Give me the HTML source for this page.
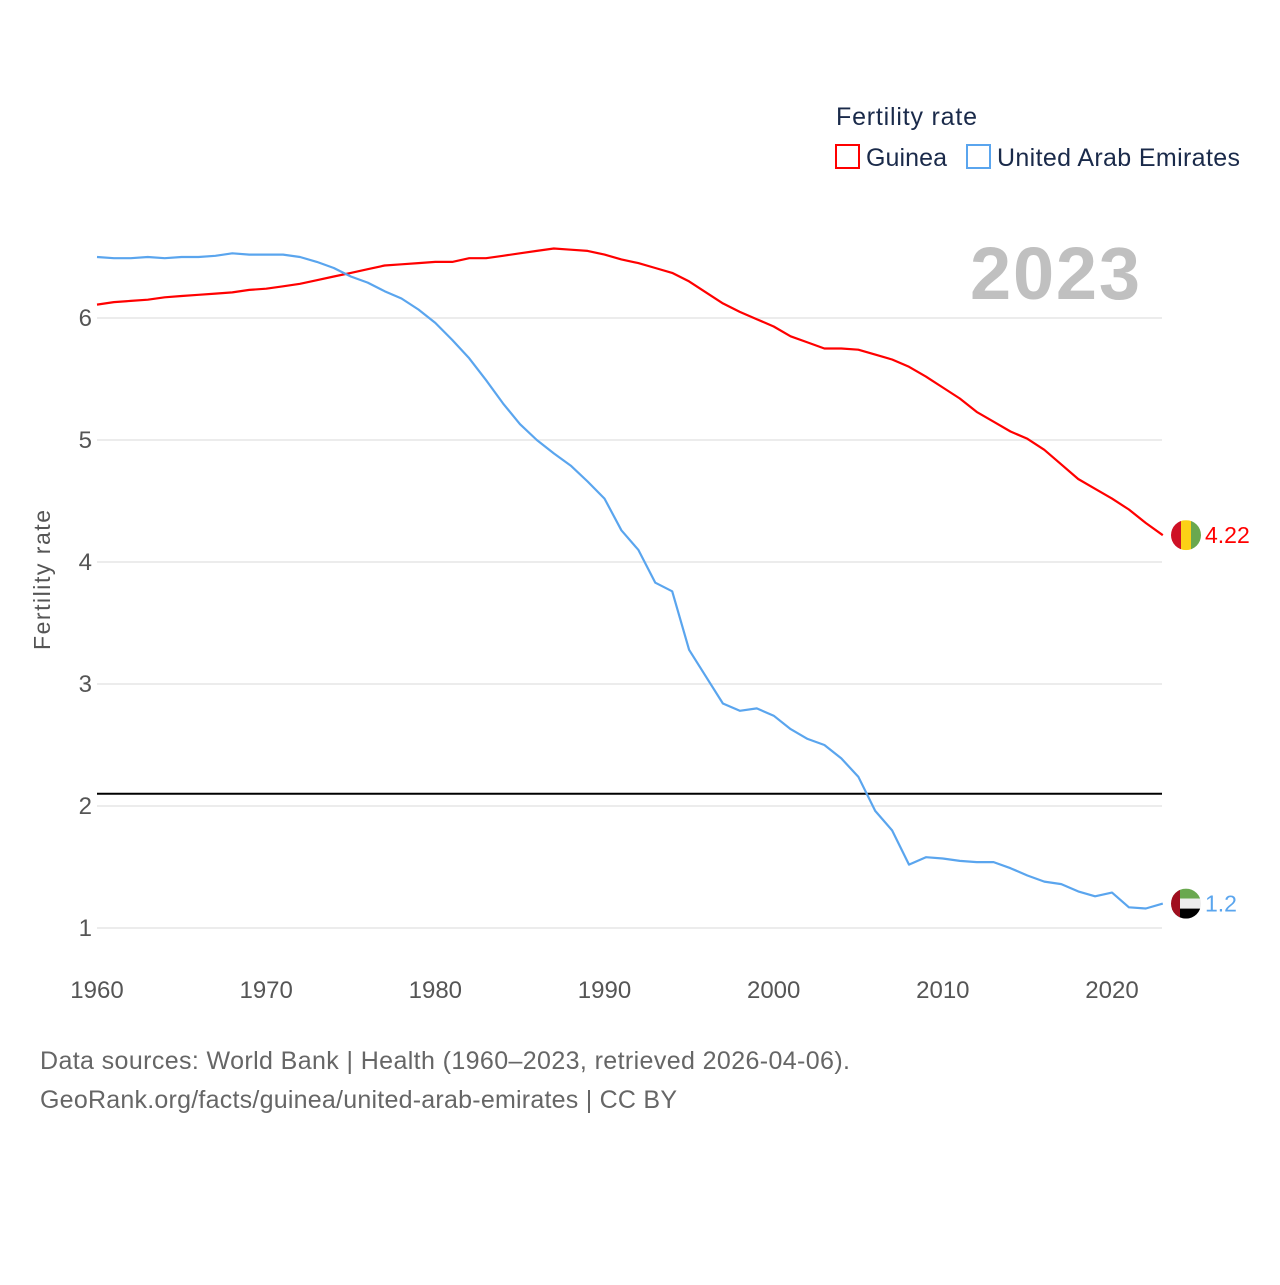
<!DOCTYPE html>
<html><head><meta charset="utf-8"><style>
body{margin:0;background:#fff;}
svg text{font-family:"Liberation Sans",sans-serif;}
</style></head><body>
<svg id="chart" width="1280" height="1280" viewBox="0 0 1280 1280" xmlns="http://www.w3.org/2000/svg">
<text x="836" y="125" font-size="25" fill="#1a2a4a" textLength="141">Fertility rate</text>
<g><rect x="836" y="145" width="23" height="23" fill="none" stroke="#f00" stroke-width="2"/><text x="866" y="166" font-size="25" fill="#1a2a4a" textLength="81">Guinea</text></g>
<g><rect x="967" y="145" width="23" height="23" fill="none" stroke="#5aa5ee" stroke-width="2"/><text x="997" y="166" font-size="25" fill="#1a2a4a" textLength="243">United Arab Emirates</text></g>
<text x="1140" y="299" font-size="74" font-weight="bold" fill="#c0c0c0" text-anchor="end" textLength="170">2023</text>
<text transform="translate(50,580) rotate(-90)" font-size="23" fill="#555" text-anchor="middle" textLength="140">Fertility rate</text>
<g id="grid"></g><g id="marks"></g>
<text x="40" y="1069" font-size="25" fill="#666" textLength="810">Data sources: World Bank | Health (1960–2023, retrieved 2026-04-06).</text>
<text x="40" y="1108" font-size="25" fill="#666" textLength="637">GeoRank.org/facts/guinea/united-arab-emirates | CC BY</text>
</svg>
<script>
const years=[];for(let y=1960;y<=2023;y++)years.push(y);
const guinea=[6.11,6.13,6.14,6.15,6.17,6.18,6.19,6.20,6.21,6.23,6.24,6.26,6.28,6.31,6.34,6.37,6.40,6.43,6.44,6.45,6.46,6.46,6.49,6.49,6.51,6.53,6.55,6.57,6.56,6.55,6.52,6.48,6.45,6.41,6.37,6.30,6.21,6.12,6.05,5.99,5.93,5.85,5.80,5.75,5.75,5.74,5.70,5.66,5.60,5.52,5.43,5.34,5.23,5.15,5.07,5.01,4.92,4.80,4.68,4.60,4.52,4.43,4.32,4.22];
const uae=[6.50,6.49,6.49,6.50,6.49,6.50,6.50,6.51,6.53,6.52,6.52,6.52,6.50,6.46,6.41,6.34,6.29,6.22,6.16,6.07,5.96,5.82,5.67,5.49,5.30,5.13,5.00,4.89,4.79,4.66,4.52,4.26,4.10,3.83,3.76,3.28,3.06,2.84,2.78,2.80,2.74,2.63,2.55,2.50,2.39,2.24,1.96,1.80,1.52,1.58,1.57,1.55,1.54,1.54,1.49,1.43,1.38,1.36,1.30,1.26,1.29,1.17,1.16,1.20];
const yTicks=[1,2,3,4,5,6];
const xTicks=[1960,1970,1980,1990,2000,2010,2020];
const replacement=2.1;
const X=y=>97+(y-1960)*(1015/60);
const Y=v=>928-(v-1)*122;
const NS="http://www.w3.org/2000/svg";
const grid=document.getElementById('grid'),marks=document.getElementById('marks');
function mk(tag,attrs,parent){const e=document.createElementNS(NS,tag);for(const k in attrs)e.setAttribute(k,attrs[k]);parent.appendChild(e);return e;}
yTicks.forEach(t=>{
 const l=mk('line',{x1:97,x2:1162,y1:Y(t),y2:Y(t),stroke:'#e6e6e6','stroke-width':1.5},grid);
 
 
 const tx=mk('text',{x:92,y:Y(t)+8,'font-size':24,fill:'#555','text-anchor':'end'},grid);tx.textContent=t;
 
 
});
xTicks.forEach(t=>{
 const tx=mk('text',{x:X(t),y:998,'font-size':24,fill:'#555','text-anchor':'middle'},grid);tx.textContent=t;
 
 
});
const rl=mk('line',{x1:97,x2:1162,y1:Y(replacement),y2:Y(replacement),stroke:'#000','stroke-width':2},marks);


function series(vals,color,name){
 const p=mk('path',{d:vals.map((v,i)=>(i?'L':'M')+X(years[i]).toFixed(1)+','+Y(v).toFixed(1)).join(''),fill:'none',stroke:color,'stroke-width':2.2,'stroke-linejoin':'round'},marks);
 
 
}
series(guinea,'#f00','guinea');
series(uae,'#5aa5ee','uae');
function flag(cy,kind,val,color){
 const cx=1186,r=15;
 const g=mk('g',{},marks);
 
 
 const id='c'+kind;
 const cp=mk('clipPath',{id:id},g);mk('circle',{cx:cx,cy:cy,r:r},cp);
 const gg=mk('g',{'clip-path':'url(#'+id+')'},g);
 if(kind==='guinea'){
  mk('rect',{x:cx-r,y:cy-r,width:10,height:30,fill:'#ce1126'},gg);
  mk('rect',{x:cx-5,y:cy-r,width:10,height:30,fill:'#fcd116'},gg);
  mk('rect',{x:cx+5,y:cy-r,width:10,height:30,fill:'#6aa84f'},gg);
 }else{
  mk('rect',{x:cx-r,y:cy-r,width:30,height:10,fill:'#6aa84f'},gg);
  mk('rect',{x:cx-r,y:cy-5,width:30,height:10,fill:'#eee'},gg);
  mk('rect',{x:cx-r,y:cy+5,width:30,height:10,fill:'#000'},gg);
  mk('rect',{x:cx-r,y:cy-r,width:9,height:30,fill:'#a00f1f'},gg);
 }
 const t=mk('text',{x:1205,y:cy+8,'font-size':23,fill:color},g);t.textContent=val;
}
flag(Y(guinea[guinea.length-1]),'guinea','4.22','#f00');
flag(Y(uae[uae.length-1]),'uae','1.2','#5aa5ee');
</script>
</body></html>
